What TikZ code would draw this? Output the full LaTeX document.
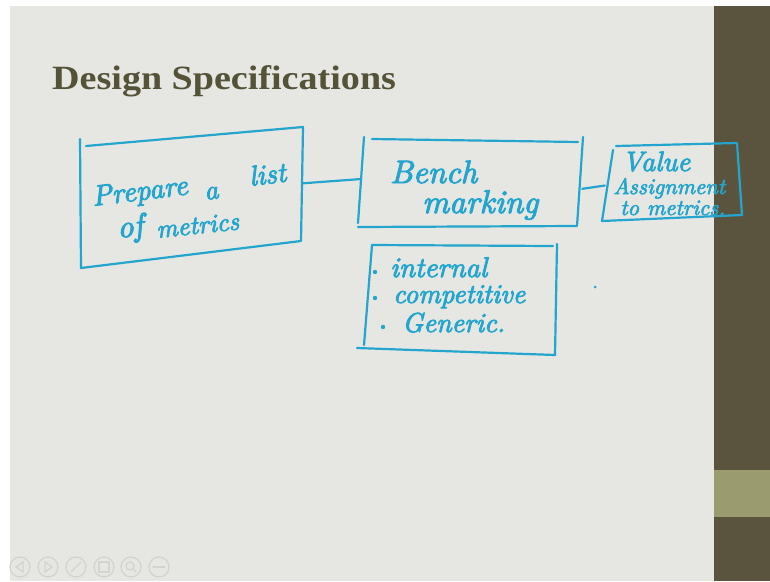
\documentclass[tikz,border=0pt]{standalone}
\usepackage{fontspec}
\usepackage{graphicx}
\newfontfamily\titlefont{Liberation Serif}
\newfontfamily\handfont{lmroman10-italic.otf}[FakeBold=3]
\newcommand{\hwt}[2]{\resizebox{#1pt}{!}{\handfont\fontsize{24}{28}\selectfont #2}}
\definecolor{slidebg}{RGB}{230,231,227}
\definecolor{bardark}{RGB}{90,84,62}
\definecolor{barlight}{RGB}{155,155,112}
\definecolor{titlec}{RGB}{84,82,55}
\definecolor{penc}{RGB}{35,165,205}
\definecolor{navc}{RGB}{211,212,208}
\begin{document}
\begin{tikzpicture}[x=1pt,y=-1pt,
  pen/.style={draw=penc, line width=2.2pt, line cap=round, line join=round},
  hw/.style={text=penc, inner sep=0pt, anchor=base west},
  boxarea/.style={draw=none, inner sep=0pt},
  navicon/.style={draw=navc, line width=1.3pt, line cap=round}]
\useasboundingbox (0,0) rectangle (770,581);
% background
\fill[white] (0,0) rectangle (770,581);
\fill[slidebg] (10,6) rectangle (770,581);
\fill[bardark] (714,6) rectangle (770,581);
\fill[barlight] (714,470) rectangle (770,517);
% title
\node[anchor=base west, inner sep=0pt, text=titlec] (title) at (52,89.5)
  {\scalebox{1.12}[1]{\titlefont\bfseries\fontsize{34}{40}\selectfont Design Specifications}};
% box areas (for connectors)
\node[boxarea, minimum width=222pt, minimum height=124pt] (P) at (191,197) {};
\node[boxarea, minimum width=222pt, minimum height=88pt] (B) at (471,183) {};
\node[boxarea, minimum width=134pt, minimum height=72pt] (V) at (672,182) {};
\node[boxarea, minimum width=196pt, minimum height=108pt] (L) at (457,299) {};
% hand-drawn outlines
\draw[pen] (80,139) -- (81,268) -- (301,241) -- (303,127) -- (86,146);
\draw[pen] (372,139) -- (578,142);
\draw[pen] (364,137) -- (358,223);
\draw[pen] (358,227) -- (577,226) -- (583,137);
\draw[pen] (616,146) -- (737,143) -- (742,215) -- (602,221) -- (613,150);
\draw[pen] (372,245) -- (553,246);
\draw[pen] (557,244) -- (555,355) -- (357,348);
\draw[pen] (372,245) -- (364,345);
% connectors
\draw[pen] (P.7) -- (B.178);
\draw[pen] (B.-3) -- (V.183);
% texts: Prepare a list of metrics
\node[hw, rotate=7] (p1) at (93,206) {\hwt{96}{Prepare}};
\node[hw, rotate=7] (p2) at (205,200) {\hwt{14}{a}};
\node[hw, rotate=7] (p3) at (250,186) {\hwt{37}{list}};
\node[hw, rotate=6] (p4) at (118,238) {\hwt{26}{of}};
\node[hw, rotate=6] (p5) at (157,238) {\hwt{83}{metrics}};
% Bench marking
\node[hw] (b1) at (390,183) {\hwt{87}{Bench}};
\node[hw] (b2) at (422,213) {\hwt{116}{marking}};
% Value assignment to metrics
\node[hw] (v1) at (622,171) {\hwt{68}{Value}};
\node[hw] (v2) at (613,194) {\hwt{112}{Assignment}};
\node[hw] (v3) at (620,215) {\hwt{105}{to metrics.}};
% list
\fill[penc] (375,272) circle[radius=2.2];
\fill[penc] (375,298) circle[radius=2.2];
\fill[penc] (383,327) circle[radius=2.2];
\node[hw] (l1) at (390,277) {\hwt{97}{internal}};
\node[hw] (l2) at (393,303) {\hwt{132}{competitive}};
\node[hw] (l3) at (402,332) {\hwt{103}{Generic.}};
% stray dot
\fill[penc] (595,287) circle[radius=1.5];
% navigation icons
\foreach \cx in {20,48,76,104,131,159} \draw[navicon] (\cx,567) circle[radius=10];
\draw[navicon] (23,562) -- (16,567) -- (23,572) -- cycle;
\draw[navicon] (45,562) -- (52,567) -- (45,572) -- cycle;
\draw[navicon] (71,572) -- (81,562);
\draw[navicon] (99,562) rectangle (109,572);
\draw[navicon] (130,566) circle[radius=4];
\draw[navicon] (133,569) -- (136,572);
\draw[navicon] (153,567) -- (165,567);
\end{tikzpicture}
\end{document}
